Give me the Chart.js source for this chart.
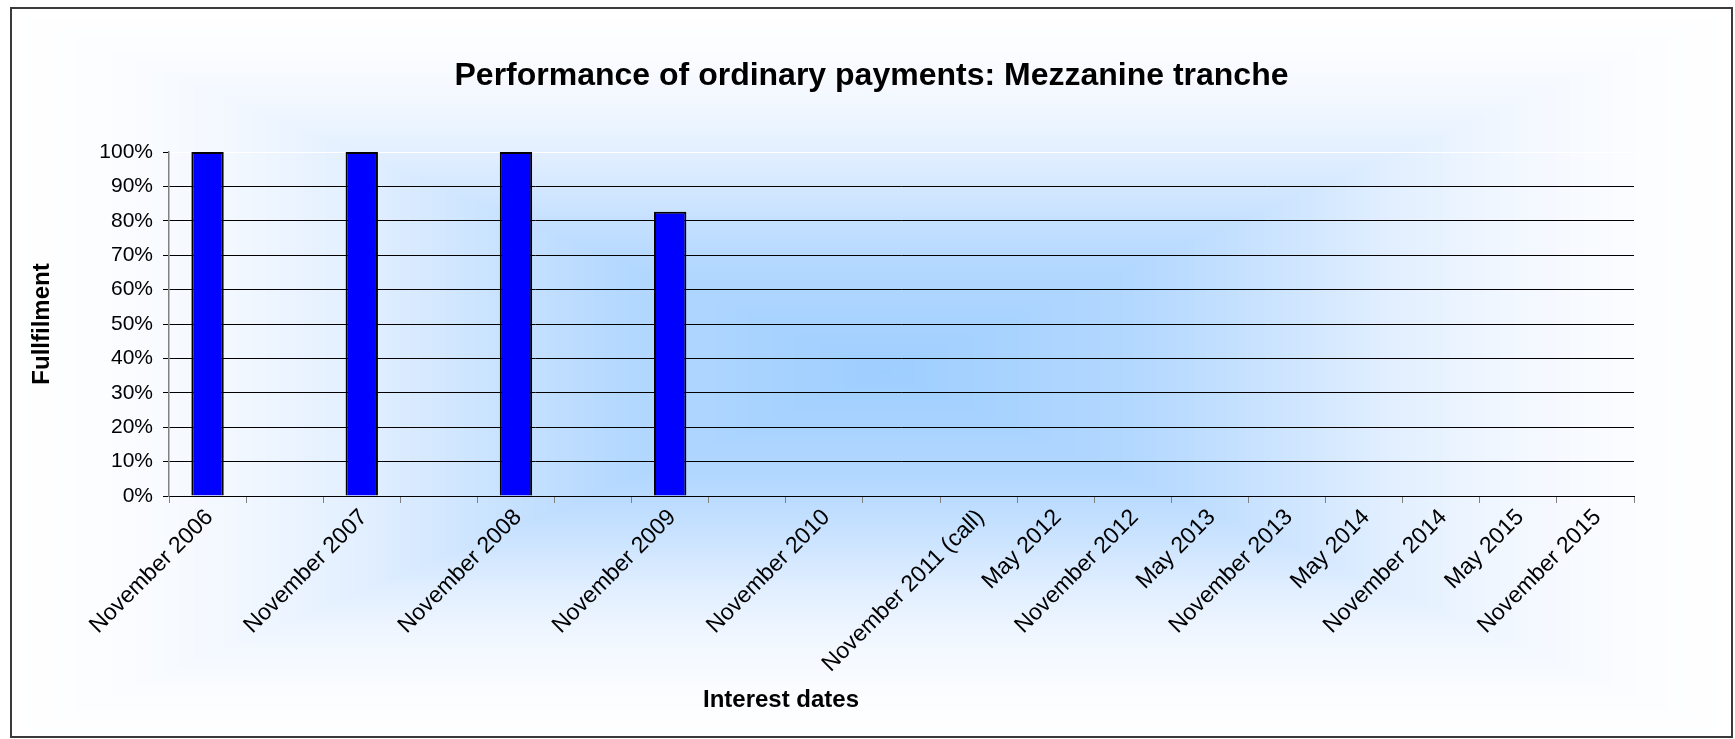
<!DOCTYPE html>
<html>
<head>
<meta charset="utf-8">
<script src="https://cdn.jsdelivr.net/npm/chart.js@4.4.0/dist/chart.umd.min.js"></script>
<style>
    body { margin: 0; background: #ffffff; }
    #wrap { width: 1735px; height: 739px; }
</style>
</head>
<body>
<div id="wrap"><canvas id="chart" width="1735" height="739"></canvas></div>
<script>
// interest dates (half-yearly slots before 2011 have no label in the source chart)
var interestDates = ["November 2006", "", "November 2007", "", "November 2008", "", "November 2009", "",
    "November 2010", "", "November 2011 (call)", "May 2012", "November 2012", "May 2013",
    "November 2013", "May 2014", "November 2014", "May 2015", "November 2015"];

// fulfilment of ordinary payments, in percent
var fulfilment = [100, null, 100, null, 100, null, 82.6, null,
    null, null, null, null, null, null, null, null, null, null, null];

var chartTitle = "Performance of ordinary payments: Mezzanine tranche";
var xTitle = "Interest dates";
var yTitle = "Fullfilment";

var FONT = "'Liberation Sans', Arial, sans-serif";

// blue "from center" fill, t = 0 at the middle, 1 at the frame
var shadeStops = [
    [0.00, [158, 206, 255]],
    [0.30, [180, 216, 255]],
    [0.45, [202, 227, 255]],
    [0.60, [226, 239, 255]],
    [0.75, [243, 248, 255]],
    [0.90, [252, 253, 255]],
    [1.00, [255, 255, 255]]
];

function shade(t) {
    for (var i = 1; i < shadeStops.length; i++) {
        if (t <= shadeStops[i][0]) {
            var a = shadeStops[i - 1], b = shadeStops[i];
            var k = (t - a[0]) / (b[0] - a[0]);
            return [
                a[1][0] + (b[1][0] - a[1][0]) * k,
                a[1][1] + (b[1][1] - a[1][1]) * k,
                a[1][2] + (b[1][2] - a[1][2]) * k
            ];
        }
    }
    return [255, 255, 255];
}

function makeBackground(w, h, cx, cy) {
    var c = document.createElement("canvas");
    c.width = w;
    c.height = h;
    var g = c.getContext("2d");
    var img = g.createImageData(w, h);
    for (var y = 0; y < h; y++) {
        for (var x = 0; x < w; x++) {
            // rectangular gradient like the old Excel fill
            var tx = x < cx ? (cx - x) / cx : (x - cx) / (w - cx);
            var ty = y < cy ? (cy - y) / cy : (y - cy) / (h - cy);
            var col = shade(Math.max(tx, ty));
            var i = (y * w + x) * 4;
            img.data[i] = col[0];
            img.data[i + 1] = col[1];
            img.data[i + 2] = col[2];
            img.data[i + 3] = 255;
        }
    }
    g.putImageData(img, 0, 0);
    return c;
}

var frame = { x0: 11, y0: 8, x1: 1732, y1: 737 };
var background = null;

var chartFrame = {
    id: "chartFrame",
    beforeDraw: function (chart) {
        var ctx = chart.ctx;
        if (!background) {
            background = makeBackground(frame.x1 - frame.x0, frame.y1 - frame.y0, 874, 364);
        }
        ctx.save();
        ctx.fillStyle = "#ffffff";
        ctx.fillRect(0, 0, chart.width, chart.height);
        ctx.drawImage(background, frame.x0, frame.y0);
        ctx.restore();
    },
    afterDraw: function (chart) {
        var ctx = chart.ctx;
        var area = chart.chartArea;
        ctx.save();
        ctx.strokeStyle = "#3a3a3a";
        ctx.lineWidth = 2;
        ctx.strokeRect(frame.x0, frame.y0, frame.x1 - frame.x0, frame.y1 - frame.y0);

        ctx.fillStyle = "#000000";
        ctx.textAlign = "center";
        ctx.textBaseline = "middle";

        // the title sits over the whole chart, not over the plot area
        ctx.font = "bold 32px " + FONT;
        ctx.fillText(chartTitle, (frame.x0 + frame.x1) / 2, 76);

        ctx.font = "bold 24px " + FONT;
        ctx.fillText(xTitle, 781, 700);

        ctx.translate(42, (area.top + area.bottom) / 2);
        ctx.rotate(-Math.PI / 2);
        ctx.fillText(yTitle, 0, 0);
        ctx.restore();
    }
};

var ctx = document.getElementById("chart").getContext("2d");
var myChart = new Chart(ctx, {
    type: "bar",
    data: {
        labels: interestDates,
        datasets: [
            {
                label: yTitle,
                data: fulfilment,
                backgroundColor: "#0000ff",
                borderColor: "#000000",
                borderWidth: 2,
                barPercentage: 0.42,
                categoryPercentage: 1
            }
        ]
    },
    options: {
        responsive: false,
        animation: false,
        layout: {
            padding: { left: 0, right: 101, top: 152, bottom: 0 }
        },
        plugins: {
            legend: { display: false },
            tooltip: { enabled: false },
            title: { display: false }
        },
        scales: {
            x: {
                grid: { drawOnChartArea: false, tickLength: 7, tickColor: "#808080" },
                border: { color: "#000000", width: 1 },
                ticks: {
                    autoSkip: false,
                    minRotation: 45,
                    maxRotation: 45,
                    color: "#000000",
                    padding: 1,
                    labelOffset: 2,
                    font: { family: FONT, size: 23 }
                },
                afterFit: function (scale) {
                    scale.height = 243;
                }
            },
            y: {
                min: 0,
                max: 100,
                ticks: {
                    stepSize: 10,
                    color: "#000000",
                    padding: 10,
                    font: { family: FONT, size: 21 },
                    callback: function (v) {
                        return v + "%";
                    }
                },
                grid: {
                    color: function (c) {
                        return c.tick && c.tick.value === 100 ? "#ffffff" : "#000000";
                    },
                    tickColor: "#000000",
                    tickLength: 6,
                    lineWidth: 1
                },
                border: { color: "#808080", width: 1.5 },
                afterFit: function (scale) {
                    scale.width = 169;
                }
            }
        }
    },
    plugins: [chartFrame]
});
</script>
</body>
</html>
